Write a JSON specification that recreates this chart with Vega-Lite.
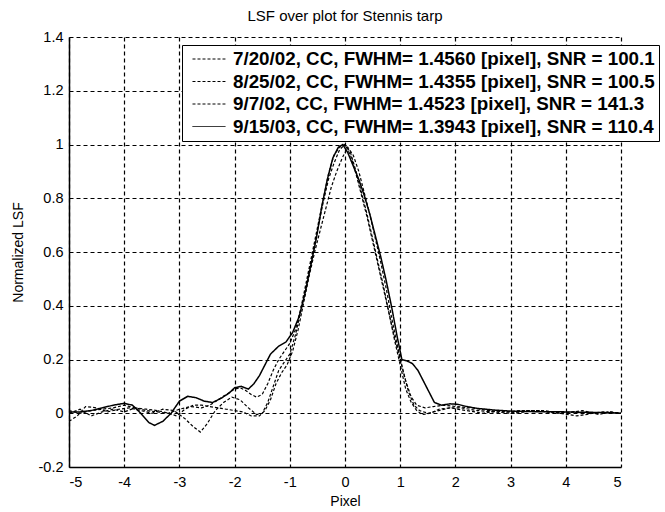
{
  "$schema": "https://vega.github.io/schema/vega-lite/v6.json",
  "width": 552,
  "height": 430,
  "autosize": {"type": "none"},
  "padding": {"left": 69, "top": 37, "right": 44, "bottom": 45},
  "background": "white",
  "title": {"text": "LSF over plot for Stennis tarp", "font": "Liberation Sans", "fontSize": 15, "fontWeight": "normal", "color": "black", "anchor": "middle", "offset": 5},
  "config": {
    "view": {"stroke": null},
    "axis": {
      "domainColor": "black", "domainWidth": 1.5,
      "grid": true, "gridColor": "black", "gridOpacity": 1, "gridWidth": 1.2, "gridDash": [4, 3],
      "ticks": false, "tickSize": 0,
      "labelFont": "Liberation Sans", "labelFontSize": 14.5, "labelColor": "black",
      "titleFont": "Liberation Sans", "titleFontSize": 14, "titleFontWeight": "normal", "titleColor": "black"
    },
    "line": {"color": "black", "strokeWidth": 1}
  },
  "datasets": {
    "a": [
      {"x": -5, "y": -0.03}, {"x": -4.85, "y": -0.01}, {"x": -4.7, "y": 0.025}, {"x": -4.5, "y": 0.02}, {"x": -4.3, "y": 0.005}, {"x": -4.1, "y": 0.015}, {"x": -3.9, "y": 0.02}, {"x": -3.7, "y": 0.01}, {"x": -3.5, "y": 0.0}, {"x": -3.3, "y": 0.015}, {"x": -3.1, "y": 0.01}, {"x": -2.9, "y": -0.02}, {"x": -2.75, "y": -0.05}, {"x": -2.62, "y": -0.07}, {"x": -2.5, "y": -0.04}, {"x": -2.35, "y": 0.01}, {"x": -2.2, "y": 0.04}, {"x": -2.05, "y": 0.06}, {"x": -1.9, "y": 0.05}, {"x": -1.75, "y": 0.02}, {"x": -1.6, "y": -0.005}, {"x": -1.5, "y": 0.0}, {"x": -1.4, "y": 0.04}, {"x": -1.3, "y": 0.1}, {"x": -1.2, "y": 0.16}, {"x": -1.1, "y": 0.19}, {"x": -1.0, "y": 0.22}, {"x": -0.9, "y": 0.29}, {"x": -0.8, "y": 0.38}, {"x": -0.7, "y": 0.48}, {"x": -0.6, "y": 0.58}, {"x": -0.5, "y": 0.68}, {"x": -0.4, "y": 0.78}, {"x": -0.3, "y": 0.87}, {"x": -0.2, "y": 0.93}, {"x": -0.1, "y": 0.98}, {"x": 0.0, "y": 1.0}, {"x": 0.1, "y": 0.97}, {"x": 0.2, "y": 0.9}, {"x": 0.3, "y": 0.82}, {"x": 0.4, "y": 0.74}, {"x": 0.5, "y": 0.65}, {"x": 0.6, "y": 0.56}, {"x": 0.7, "y": 0.47}, {"x": 0.8, "y": 0.37}, {"x": 0.9, "y": 0.27}, {"x": 1.0, "y": 0.18}, {"x": 1.1, "y": 0.09}, {"x": 1.2, "y": 0.04}, {"x": 1.3, "y": 0.01}, {"x": 1.4, "y": -0.005}, {"x": 1.55, "y": 0.0}, {"x": 1.7, "y": 0.015}, {"x": 1.9, "y": 0.02}, {"x": 2.1, "y": 0.02}, {"x": 2.4, "y": 0.01}, {"x": 2.7, "y": 0.005}, {"x": 3.0, "y": 0.0}, {"x": 3.3, "y": 0.01}, {"x": 3.6, "y": 0.01}, {"x": 3.9, "y": 0.0}, {"x": 4.2, "y": -0.01}, {"x": 4.5, "y": 0.0}, {"x": 4.8, "y": 0.005}, {"x": 5.0, "y": 0.0}
    ],
    "b": [
      {"x": -5, "y": 0.0}, {"x": -4.8, "y": 0.015}, {"x": -4.6, "y": -0.01}, {"x": -4.4, "y": 0.005}, {"x": -4.2, "y": 0.015}, {"x": -4.0, "y": 0.005}, {"x": -3.8, "y": 0.02}, {"x": -3.6, "y": 0.015}, {"x": -3.4, "y": 0.01}, {"x": -3.2, "y": 0.0}, {"x": -3.05, "y": -0.01}, {"x": -2.9, "y": 0.015}, {"x": -2.75, "y": 0.03}, {"x": -2.6, "y": 0.03}, {"x": -2.45, "y": 0.025}, {"x": -2.3, "y": 0.02}, {"x": -2.15, "y": 0.015}, {"x": -2.0, "y": 0.01}, {"x": -1.85, "y": 0.005}, {"x": -1.7, "y": -0.01}, {"x": -1.55, "y": -0.01}, {"x": -1.45, "y": 0.01}, {"x": -1.35, "y": 0.05}, {"x": -1.25, "y": 0.11}, {"x": -1.15, "y": 0.15}, {"x": -1.05, "y": 0.18}, {"x": -0.95, "y": 0.23}, {"x": -0.85, "y": 0.31}, {"x": -0.75, "y": 0.41}, {"x": -0.65, "y": 0.51}, {"x": -0.55, "y": 0.6}, {"x": -0.45, "y": 0.68}, {"x": -0.35, "y": 0.76}, {"x": -0.25, "y": 0.84}, {"x": -0.15, "y": 0.9}, {"x": -0.05, "y": 0.95}, {"x": 0.05, "y": 0.99}, {"x": 0.15, "y": 0.96}, {"x": 0.25, "y": 0.9}, {"x": 0.35, "y": 0.82}, {"x": 0.45, "y": 0.74}, {"x": 0.55, "y": 0.65}, {"x": 0.65, "y": 0.56}, {"x": 0.75, "y": 0.46}, {"x": 0.85, "y": 0.35}, {"x": 0.95, "y": 0.25}, {"x": 1.05, "y": 0.16}, {"x": 1.15, "y": 0.08}, {"x": 1.25, "y": 0.03}, {"x": 1.35, "y": 0.01}, {"x": 1.5, "y": 0.0}, {"x": 1.7, "y": 0.01}, {"x": 1.9, "y": 0.02}, {"x": 2.2, "y": 0.01}, {"x": 2.5, "y": 0.0}, {"x": 2.8, "y": 0.01}, {"x": 3.1, "y": 0.0}, {"x": 3.4, "y": 0.01}, {"x": 3.7, "y": 0.005}, {"x": 4.0, "y": 0.0}, {"x": 4.3, "y": 0.01}, {"x": 4.6, "y": -0.005}, {"x": 4.8, "y": 0.005}, {"x": 5.0, "y": 0.0}
    ],
    "c": [
      {"x": -5, "y": 0.01}, {"x": -4.8, "y": 0.0}, {"x": -4.6, "y": 0.01}, {"x": -4.4, "y": 0.015}, {"x": -4.2, "y": 0.02}, {"x": -4.0, "y": 0.03}, {"x": -3.8, "y": 0.02}, {"x": -3.6, "y": 0.01}, {"x": -3.4, "y": 0.005}, {"x": -3.2, "y": 0.0}, {"x": -3.0, "y": 0.015}, {"x": -2.8, "y": 0.025}, {"x": -2.6, "y": 0.02}, {"x": -2.45, "y": 0.03}, {"x": -2.3, "y": 0.05}, {"x": -2.15, "y": 0.07}, {"x": -2.0, "y": 0.09}, {"x": -1.9, "y": 0.095}, {"x": -1.8, "y": 0.085}, {"x": -1.7, "y": 0.07}, {"x": -1.6, "y": 0.06}, {"x": -1.5, "y": 0.07}, {"x": -1.4, "y": 0.11}, {"x": -1.3, "y": 0.16}, {"x": -1.2, "y": 0.2}, {"x": -1.1, "y": 0.23}, {"x": -1.0, "y": 0.26}, {"x": -0.9, "y": 0.31}, {"x": -0.8, "y": 0.39}, {"x": -0.7, "y": 0.49}, {"x": -0.6, "y": 0.59}, {"x": -0.5, "y": 0.69}, {"x": -0.4, "y": 0.79}, {"x": -0.3, "y": 0.89}, {"x": -0.2, "y": 0.96}, {"x": -0.1, "y": 0.99}, {"x": 0.0, "y": 1.0}, {"x": 0.1, "y": 0.96}, {"x": 0.2, "y": 0.89}, {"x": 0.3, "y": 0.81}, {"x": 0.4, "y": 0.73}, {"x": 0.5, "y": 0.64}, {"x": 0.6, "y": 0.55}, {"x": 0.7, "y": 0.46}, {"x": 0.8, "y": 0.37}, {"x": 0.9, "y": 0.28}, {"x": 1.0, "y": 0.2}, {"x": 1.1, "y": 0.12}, {"x": 1.2, "y": 0.06}, {"x": 1.3, "y": 0.03}, {"x": 1.45, "y": 0.02}, {"x": 1.6, "y": 0.025}, {"x": 1.8, "y": 0.03}, {"x": 2.0, "y": 0.025}, {"x": 2.3, "y": 0.02}, {"x": 2.6, "y": 0.01}, {"x": 2.9, "y": 0.005}, {"x": 3.2, "y": 0.01}, {"x": 3.5, "y": 0.01}, {"x": 3.8, "y": 0.0}, {"x": 4.1, "y": 0.005}, {"x": 4.4, "y": 0.0}, {"x": 4.7, "y": 0.005}, {"x": 5.0, "y": 0.0}
    ],
    "d": [
      {"x": -5, "y": 0.005}, {"x": -4.8, "y": 0.005}, {"x": -4.6, "y": 0.01}, {"x": -4.4, "y": 0.02}, {"x": -4.2, "y": 0.03}, {"x": -4.0, "y": 0.037}, {"x": -3.85, "y": 0.03}, {"x": -3.7, "y": 0.0}, {"x": -3.55, "y": -0.035}, {"x": -3.45, "y": -0.045}, {"x": -3.3, "y": -0.03}, {"x": -3.15, "y": 0.0}, {"x": -3.0, "y": 0.045}, {"x": -2.85, "y": 0.063}, {"x": -2.7, "y": 0.058}, {"x": -2.55, "y": 0.045}, {"x": -2.4, "y": 0.04}, {"x": -2.25, "y": 0.055}, {"x": -2.1, "y": 0.075}, {"x": -2.0, "y": 0.095}, {"x": -1.88, "y": 0.1}, {"x": -1.75, "y": 0.09}, {"x": -1.65, "y": 0.11}, {"x": -1.55, "y": 0.14}, {"x": -1.45, "y": 0.18}, {"x": -1.35, "y": 0.22}, {"x": -1.2, "y": 0.25}, {"x": -1.07, "y": 0.265}, {"x": -0.95, "y": 0.3}, {"x": -0.83, "y": 0.36}, {"x": -0.72, "y": 0.45}, {"x": -0.62, "y": 0.55}, {"x": -0.52, "y": 0.65}, {"x": -0.42, "y": 0.77}, {"x": -0.32, "y": 0.87}, {"x": -0.22, "y": 0.95}, {"x": -0.12, "y": 0.99}, {"x": -0.04, "y": 1.0}, {"x": 0.05, "y": 0.97}, {"x": 0.15, "y": 0.92}, {"x": 0.25, "y": 0.87}, {"x": 0.35, "y": 0.81}, {"x": 0.45, "y": 0.74}, {"x": 0.55, "y": 0.66}, {"x": 0.65, "y": 0.58}, {"x": 0.75, "y": 0.49}, {"x": 0.85, "y": 0.39}, {"x": 0.95, "y": 0.28}, {"x": 1.03, "y": 0.2}, {"x": 1.12, "y": 0.195}, {"x": 1.22, "y": 0.185}, {"x": 1.32, "y": 0.16}, {"x": 1.42, "y": 0.12}, {"x": 1.52, "y": 0.08}, {"x": 1.62, "y": 0.04}, {"x": 1.75, "y": 0.03}, {"x": 1.9, "y": 0.035}, {"x": 2.05, "y": 0.033}, {"x": 2.2, "y": 0.025}, {"x": 2.4, "y": 0.018}, {"x": 2.7, "y": 0.012}, {"x": 3.0, "y": 0.008}, {"x": 3.4, "y": 0.006}, {"x": 3.8, "y": 0.006}, {"x": 4.2, "y": 0.004}, {"x": 4.6, "y": 0.003}, {"x": 5.0, "y": 0.0}
    ]
  },
  "encoding": {
    "x": {"field": "x", "type": "quantitative", "title": "Pixel",
      "scale": {"domain": [-5, 5], "nice": false, "zero": false},
      "axis": {"values": [-5, -4, -3, -2, -1, 0, 1, 2, 3, 4, 5], "labelExpr": "'' + datum.value", "labelPadding": 8, "titlePadding": 6}},
    "y": {"field": "y", "type": "quantitative", "title": "Normalized LSF",
      "scale": {"domain": [-0.2, 1.4], "nice": false, "zero": false},
      "axis": {"values": [-0.2, 0, 0.2, 0.4, 0.6, 0.8, 1, 1.2, 1.4], "labelExpr": "'' + datum.value", "labelPadding": 6, "titlePadding": 13}}
  },
  "layer": [
    {"data": {"name": "a"}, "mark": {"type": "line", "strokeWidth": 1.2},
      "encoding": {"strokeDash": {"datum": "7/20/02, CC, FWHM= 1.4560 [pixel], SNR = 100.1", "type": "nominal",
        "scale": {"domain": ["7/20/02, CC, FWHM= 1.4560 [pixel], SNR = 100.1", "8/25/02, CC, FWHM= 1.4355 [pixel], SNR = 100.5", "9/7/02, CC, FWHM= 1.4523 [pixel], SNR = 141.3", "9/15/03, CC, FWHM= 1.3943 [pixel], SNR = 110.4"],
          "range": [[3, 2], [3, 2], [3, 2], [1, 0]]},
        "legend": {"orient": "none", "legendX": 113, "legendY": 8, "title": null,
          "strokeColor": "black", "fillColor": "white", "padding": 4, "rowPadding": 2.5,
          "labelFont": "Liberation Sans", "labelFontWeight": "bold", "labelFontSize": 18.8, "labelColor": "black", "labelLimit": 0, "labelOffset": 27,
          "symbolType": "M-0.37,0H3.1", "symbolSize": 361, "symbolStrokeWidth": 1.3, "symbolStrokeColor": "black", "symbolFillColor": "transparent"}}}},
    {"data": {"name": "b"}, "mark": {"type": "line", "strokeWidth": 1.2},
      "encoding": {"strokeDash": {"datum": "8/25/02, CC, FWHM= 1.4355 [pixel], SNR = 100.5", "type": "nominal"}}},
    {"data": {"name": "c"}, "mark": {"type": "line", "strokeWidth": 1.2},
      "encoding": {"strokeDash": {"datum": "9/7/02, CC, FWHM= 1.4523 [pixel], SNR = 141.3", "type": "nominal"}}},
    {"data": {"name": "d"}, "mark": {"type": "line", "strokeWidth": 1.5},
      "encoding": {"strokeDash": {"datum": "9/15/03, CC, FWHM= 1.3943 [pixel], SNR = 110.4", "type": "nominal"}}}
  ]
}
